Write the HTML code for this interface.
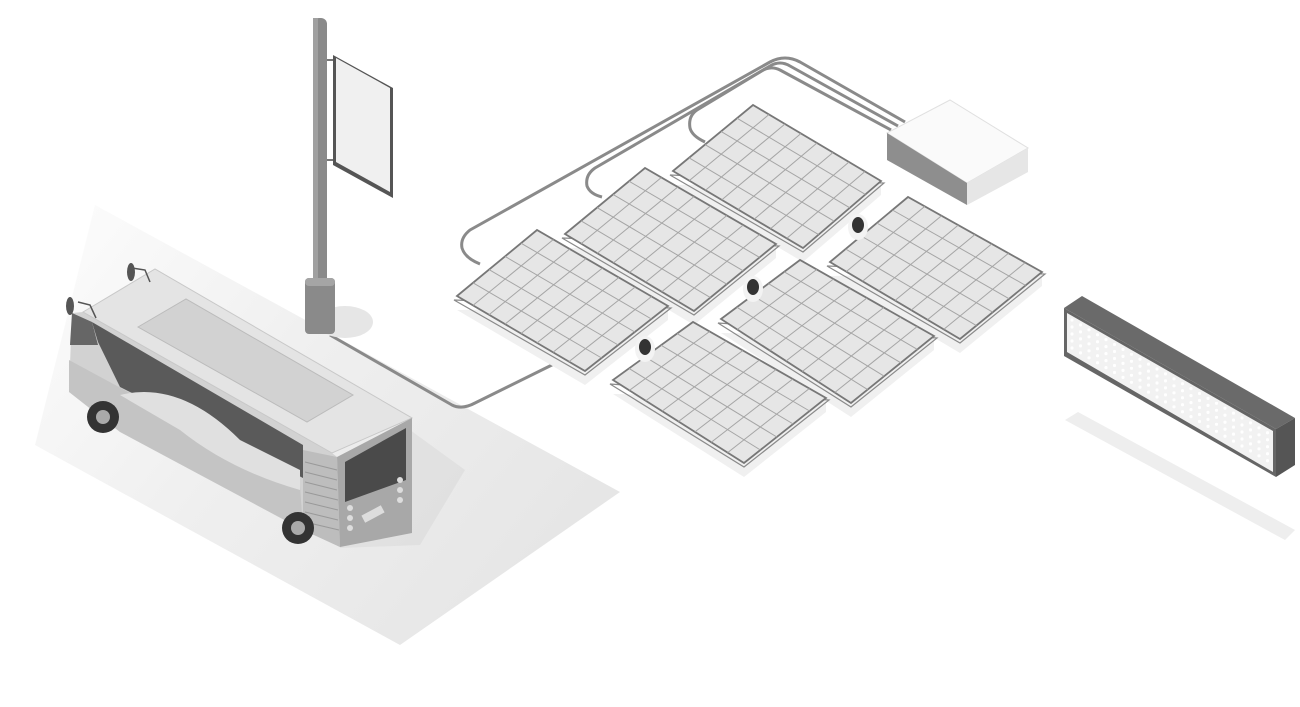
<!DOCTYPE html>
<html><head><meta charset="utf-8"><style>html,body{margin:0;padding:0;background:#fff;width:1300px;height:707px;overflow:hidden}</style></head>
<body>
<svg id="s" width="1300" height="707" viewBox="0 0 1300 707" xmlns="http://www.w3.org/2000/svg">
<defs>
<linearGradient id="sh" x1="0" y1="0" x2="1" y2="0.6">
<stop offset="0" stop-color="#fdfdfd"/><stop offset="0.5" stop-color="#efefef"/><stop offset="1" stop-color="#e6e6e6"/></linearGradient>
</defs>
<polygon points="35,445 95,205 620,492 400,645" fill="url(#sh)"/>
<polygon points="330,470 410,430 465,470 420,545 340,548" fill="#dadada" opacity="0.6"/>
<g fill="none" stroke="#8a8a8a" stroke-width="3" stroke-linejoin="round">
<path d="M905,122 L800,62 Q785,54 770,62 L470,230 Q460,238 462,248 Q465,258 480,264"/>
<path d="M898,126 L790,66 Q780,60 770,66 L595,168 Q585,175 587,186 Q590,194 602,197"/>
<path d="M891,130 L780,70 Q770,65 760,72 L697,110 Q688,116 690,128 Q692,136 705,142"/>
<path d="M330,335 L452,405 Q462,410 475,403 L562,360"/>
</g>
<polygon points="887,160 967,205 1028,172 1028,148 950,110 887,133" fill="#f0f0f0"/>
<polygon points="887,133 950,100 1028,148 967,183" fill="#fafafa" stroke="#e0e0e0"/>
<polygon points="887,133 967,183 967,205 887,160" fill="#8e8e8e"/>
<polygon points="967,183 1028,148 1028,172 967,205" fill="#e6e6e6"/>
<g id="panels"></g>
<ellipse cx="345" cy="322" rx="28" ry="16" fill="#e6e6e6"/>
<rect x="313" y="18" width="14" height="270" rx="6" fill="#8a8a8a"/>
<rect x="313" y="18" width="5" height="270" fill="#a0a0a0"/>
<rect x="305" y="278" width="30" height="56" rx="4" fill="#8a8a8a"/>
<rect x="305" y="278" width="30" height="8" rx="4" fill="#a5a5a5"/>
<line x1="327" y1="60" x2="334" y2="60" stroke="#777" stroke-width="2"/>
<line x1="327" y1="160" x2="334" y2="160" stroke="#777" stroke-width="2"/>
<polygon points="333,55 393,88 393,198 333,165" fill="#555"/>
<polygon points="336,58 390,88 390,192 336,162" fill="#f0f0f0"/>
<polygon points="1065,420 1078,412 1295,530 1285,540" fill="#eeeeee"/>
<polygon points="1064,308 1082,296 1295,418 1276,429" fill="#6a6a6a"/>
<polygon points="1276,429 1295,418 1295,465 1276,477" fill="#555"/>
<polygon points="1064,308 1276,429 1276,477 1064,356" fill="#666"/>
<polygon points="1067,313 1273,431 1273,472 1067,352" fill="#f2f2f2"/>
<g id="dots" fill="#fff"></g>
<polygon points="72,313 83,312 332,453 337,457 340,547 300,528 285,520 120,430 69,390" fill="#d2d2d2"/>
<polygon points="69,360 300,485 303,530 120,432 69,392" fill="#c4c4c4"/>
<polygon points="92,322 303,445 303,478 200,425 130,392 120,387 98,342" fill="#5a5a5a"/>
<path d="M120,395 Q180,380 240,440 L300,470 L300,490 Q230,470 180,430 Z" fill="#e0e0e0"/>
<polygon points="72,313 92,322 98,345 70,345" fill="#666"/>
<polygon points="83,312 155,269 412,418 332,453" fill="#e4e4e4" stroke="#c8c8c8"/>
<polygon points="138,327 186,299 353,395 307,422" fill="#d2d2d2" stroke="#bbb"/>
<polygon points="303,450 337,457 340,547 303,530" fill="#bdbdbd"/>
<g stroke="#999" stroke-width="1">
<line x1="305" y1="462" x2="337" y2="470"/><line x1="305" y1="472" x2="337" y2="480"/><line x1="305" y1="482" x2="337" y2="490"/><line x1="305" y1="492" x2="338" y2="500"/><line x1="305" y1="502" x2="338" y2="510"/><line x1="305" y1="512" x2="338" y2="520"/><line x1="305" y1="522" x2="339" y2="530"/></g>
<polygon points="337,457 412,418 412,533 340,547" fill="#a8a8a8"/>
<polygon points="345,462 406,428 406,480 345,502" fill="#4a4a4a"/>
<rect x="362" y="510" width="22" height="8" fill="#ddd" transform="rotate(-28 373 514)"/>
<g fill="#ddd"><circle cx="350" cy="508" r="3"/><circle cx="350" cy="518" r="3"/><circle cx="350" cy="528" r="3"/><circle cx="400" cy="480" r="3"/><circle cx="400" cy="490" r="3"/><circle cx="400" cy="500" r="3"/></g>
<g stroke="#555" stroke-width="1.5" fill="none"><path d="M78,302 L90,305 L96,318"/><path d="M132,268 L145,270 L150,282"/></g>
<ellipse cx="70" cy="306" rx="4" ry="9" fill="#555"/><ellipse cx="131" cy="272" rx="4" ry="9" fill="#555"/>
<circle cx="103" cy="417" r="16" fill="#333"/><circle cx="103" cy="417" r="7" fill="#aaa"/>
<circle cx="298" cy="528" r="16" fill="#333"/><circle cx="298" cy="528" r="7" fill="#aaa"/>
</svg>
<script>
var P=[
[[673,171],[753,105],[881,181],[803,248]],
[[565,234],[645,168],[776,244],[694,311]],
[[457,296],[537,230],[668,306],[585,371]],
[[830,262],[908,197],[1042,272],[960,339]],
[[721,319],[800,260],[934,336],[851,403]],
[[613,380],[693,322],[826,398],[744,463]]];
var g=document.getElementById("panels"),h="";
function pt(a){return a[0]+","+a[1]}
P.forEach(function(p){
 var L=p[0],T=p[1],R=p[2],B=p[3];
 h+='<polygon points="'+[L,B,R].map(function(a){return pt([a[0],a[1]+14])}).join(" ")+' '+pt([R[0],R[1]])+'" fill="#f0f0f0"/>';
 h+='<polygon points="'+[[L[0]-3,L[1]+4],[B[0],B[1]+4],[R[0]+3,R[1]+2]].map(pt).join(" ")+'" fill="none" stroke="#8a8a8a" stroke-width="1.2"/>';
 h+='<polygon points="'+[L,T,R,B].map(pt).join(" ")+'" fill="#e6e6e6" stroke="#777" stroke-width="1.8"/>';
 for(var i=1;i<8;i++){var t=i/8;h+='<line x1="'+(T[0]+(R[0]-T[0])*t)+'" y1="'+(T[1]+(R[1]-T[1])*t)+'" x2="'+(L[0]+(B[0]-L[0])*t)+'" y2="'+(L[1]+(B[1]-L[1])*t)+'" stroke="#a5a5a5" stroke-width="1"/>';}
 for(var j=1;j<5;j++){var u=j/5;h+='<line x1="'+(L[0]+(T[0]-L[0])*u)+'" y1="'+(L[1]+(T[1]-L[1])*u)+'" x2="'+(B[0]+(R[0]-B[0])*u)+'" y2="'+(B[1]+(R[1]-B[1])*u)+'" stroke="#a5a5a5" stroke-width="1"/>';}
});
[[858,225],[753,287],[645,347]].forEach(function(c){h+='<ellipse cx="'+c[0]+'" cy="'+(c[1]+2)+'" rx="10" ry="13" fill="#f3f3f3"/><ellipse cx="'+c[0]+'" cy="'+c[1]+'" rx="6" ry="8" fill="#333"/>';});
g.innerHTML=h;
var d="",D=document.getElementById("dots");
for(var i=0;i<24;i++)for(var j=0;j<5;j++){var x=1072+i*8.5,y=320+i*4.9+j*7;d+='<circle cx="'+x+'" cy="'+y+'" r="1.6"/>';}
D.innerHTML=d;
</script>
</body></html>
